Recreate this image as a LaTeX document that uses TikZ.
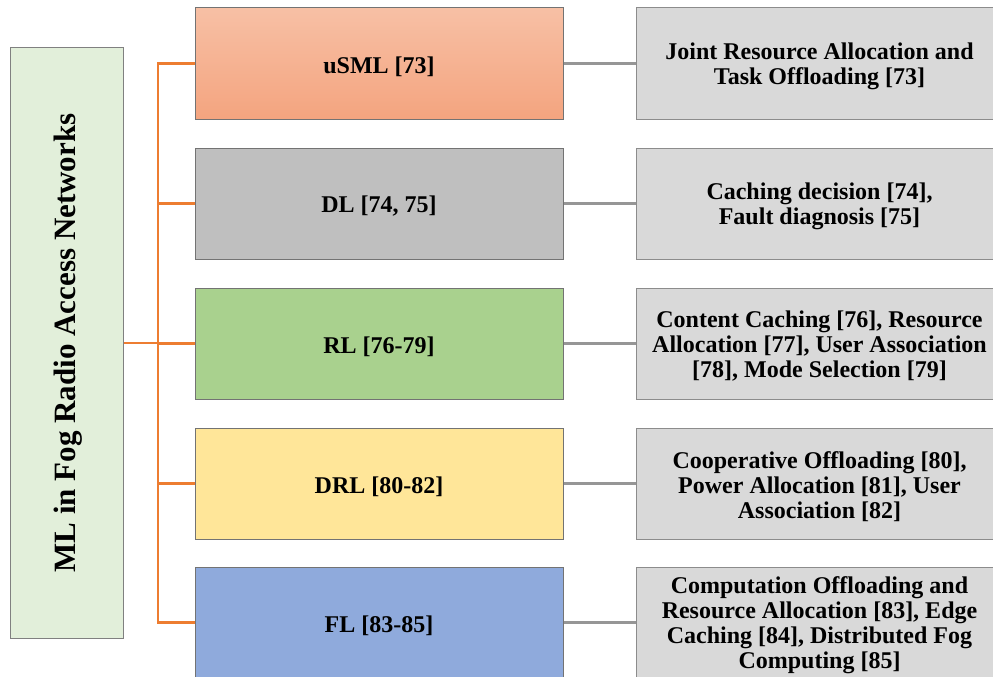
\documentclass[tikz,border=0pt]{standalone}
\usepackage{fontspec}
\setmainfont{Liberation Serif}
\begin{document}
\begin{tikzpicture}[x=1pt,y=-1pt,
  box/.style={rectangle, draw=black!55, line width=1pt, inner sep=0pt,
    minimum width=368pt, minimum height=111pt},
  leaf/.style={box, draw=black!45, fill=leafgray, minimum width=367pt},
  label text/.style={align=center, inner sep=0pt, yshift=-3pt,
    font=\fontsize{24}{25}\selectfont\bfseries},
  rootbox/.style={rectangle, draw=black!50, line width=1pt, fill=rootgreen,
    minimum width=113pt, minimum height=590pt, inner sep=0pt},
  trunk/.style={draw=branchorange, line width=2.8pt},
  link/.style={draw=linkgray, line width=2.2pt}]
\definecolor{rootgreen}{RGB}{226,239,218}
\definecolor{branchorange}{RGB}{237,125,49}
\definecolor{linkgray}{RGB}{150,150,150}
\definecolor{leafgray}{RGB}{217,217,217}
\definecolor{salmontop}{RGB}{247,192,165}
\definecolor{salmonbot}{RGB}{244,164,127}
\definecolor{midgray}{RGB}{191,191,191}
\definecolor{rlgreen}{RGB}{169,209,142}
\definecolor{drlyellow}{RGB}{255,230,153}
\definecolor{flblue}{RGB}{143,170,220}

\useasboundingbox (0,0) rectangle (993,677);
\clip (0,0) rectangle (993,677);

% root of the tree
\node[rootbox] (root) at (66.5,343) {};
\node[rotate=90, font=\fontsize{31}{34}\selectfont\bfseries] (roottext) at (68,343)
  {ML in Fog Radio Access Networks};

% method boxes
\node[box, top color=salmontop, bottom color=salmonbot] (usml) at (379,63.5) {};
\node[box, fill=midgray] (dl) at (379,203.5) {};
\node[box, fill=rlgreen] (rl) at (379,343.5) {};
\node[box, fill=drlyellow] (drl) at (379,483.5) {};
\node[box, fill=flblue] (fl) at (379,622.5) {};
\node[label text] (usmltext) at (usml) {uSML [73]};
\node[label text] (dltext) at (dl) {DL [74, 75]};
\node[label text] (rltext) at (rl) {RL [76-79]};
\node[label text] (drltext) at (drl) {DRL [80-82]};
\node[label text] (fltext) at (fl) {FL [83-85]};

% application boxes
\node[leaf] (a1) at (819.5,63.5) {};
\node[leaf] (a2) at (819.5,203.5) {};
\node[leaf] (a3) at (819.5,343.5) {};
\node[leaf] (a4) at (819.5,483.5) {};
\node[leaf] (a5) at (819.5,622.5) {};
\node[label text] (a1text) at (a1) {Joint Resource Allocation and\\Task Offloading [73]};
\node[label text] (a2text) at (a2) {Caching decision [74],\\Fault diagnosis [75]};
\node[label text] (a3text) at (a3) {Content Caching [76], Resource\\Allocation [77], User Association\\{}[78], Mode Selection [79]};
\node[label text] (a4text) at (a4) {Cooperative Offloading [80],\\Power Allocation [81], User\\Association [82]};
\node[label text] (a5text) at (a5) {Computation Offloading and\\Resource Allocation [83], Edge\\Caching [84], Distributed Fog\\Computing [85]};

% orange tree connectors
\coordinate (jtop) at (158,63.5);
\coordinate (jbot) at (158,622.5);
\path[trunk] (root.east) -- (root.east -| jtop);
\path[trunk] (usml.west) -- (jtop) -- (jbot) -- (fl.west);
\path[trunk] (dl.west) -- (dl.west -| jtop);
\path[trunk] (rl.west) -- (rl.west -| jtop);
\path[trunk] (drl.west) -- (drl.west -| jtop);

% gray connectors to applications
\path[link] (usml.east) -- (a1.west);
\path[link] (dl.east) -- (a2.west);
\path[link] (rl.east) -- (a3.west);
\path[link] (drl.east) -- (a4.west);
\path[link] (fl.east) -- (a5.west);
\end{tikzpicture}
\end{document}
